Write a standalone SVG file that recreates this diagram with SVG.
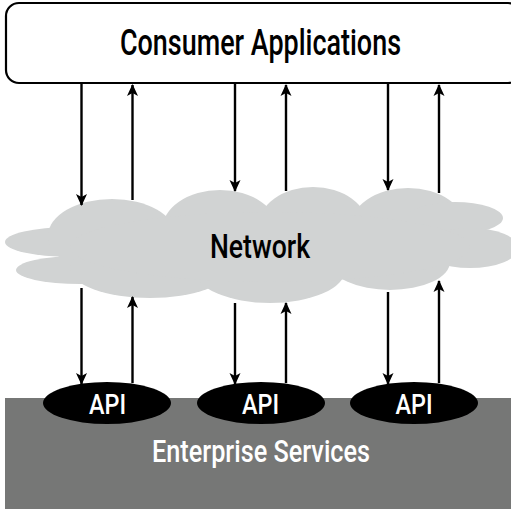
<svg xmlns="http://www.w3.org/2000/svg" width="511" height="509" viewBox="0 0 511 509">
<defs>
<style>
.lbl{font-family:Roboto,"Liberation Sans",Arial,sans-serif;font-weight:500;text-anchor:middle}
.conn line{stroke:#000;stroke-width:2.4;fill:none}
.cloud ellipse{fill:#d1d3d3}
.api{fill:#000}
</style>
<marker id="ah" viewBox="0 0 12 12" refX="11" refY="6" markerWidth="12" markerHeight="12" markerUnits="userSpaceOnUse" orient="auto">
<path d="M0,0.5 L12,6 L0,11.5 L3,6 Z" fill="#000"/>
</marker>
</defs>
<rect width="511" height="509" fill="#fff"/>
<g id="enterprise">
<rect x="5" y="398" width="506" height="111" fill="#767776"/>
<text class="lbl" x="261" y="462" font-size="31" fill="#fff" textLength="218" lengthAdjust="spacingAndGlyphs">Enterprise Services</text>
</g>
<g id="network" class="cloud">
<ellipse cx="70" cy="242" rx="65" ry="15"/>
<ellipse cx="80" cy="270" rx="64" ry="14"/>
<ellipse cx="112" cy="236" rx="64" ry="37"/>
<ellipse cx="150" cy="268" rx="80" ry="30"/>
<ellipse cx="220" cy="230" rx="58" ry="40"/>
<ellipse cx="313" cy="227" rx="55" ry="40"/>
<ellipse cx="408" cy="228" rx="58" ry="40"/>
<ellipse cx="455" cy="218" rx="48" ry="16"/>
<ellipse cx="470" cy="248" rx="48" ry="20"/>
<ellipse cx="390" cy="262" rx="60" ry="28"/>
<ellipse cx="270" cy="270" rx="75" ry="33"/>
<ellipse cx="270" cy="247" rx="200" ry="35"/>
<text class="lbl" x="260" y="258" font-size="33" fill="#000" textLength="100" lengthAdjust="spacingAndGlyphs">Network</text>
</g>
<g id="consumer">
<rect x="6" y="3" width="515" height="80" rx="13" ry="13" fill="#fff" stroke="#000" stroke-width="2.2"/>
<text class="lbl" x="260.5" y="55" font-size="36" fill="#000" textLength="281" lengthAdjust="spacingAndGlyphs">Consumer Applications</text>
</g>
<g id="api1">
<ellipse class="api" cx="107" cy="403" rx="64" ry="21"/>
<text class="lbl" x="107.5" y="414" font-size="27" fill="#fff" textLength="37" lengthAdjust="spacingAndGlyphs">API</text>
</g>
<g id="api2">
<ellipse class="api" cx="261" cy="403" rx="64" ry="21"/>
<text class="lbl" x="260.5" y="414" font-size="27" fill="#fff" textLength="37" lengthAdjust="spacingAndGlyphs">API</text>
</g>
<g id="api3">
<ellipse class="api" cx="414" cy="403" rx="64" ry="21"/>
<text class="lbl" x="414" y="414" font-size="27" fill="#fff" textLength="37" lengthAdjust="spacingAndGlyphs">API</text>
</g>
<g id="connectors" class="conn">
<line x1="81.5" y1="84" x2="81.5" y2="205" marker-end="url(#ah)"/>
<line x1="132.5" y1="200" x2="132.5" y2="85" marker-end="url(#ah)"/>
<line x1="235" y1="84" x2="235" y2="191" marker-end="url(#ah)"/>
<line x1="286" y1="191" x2="286" y2="85" marker-end="url(#ah)"/>
<line x1="388" y1="84" x2="388" y2="190" marker-end="url(#ah)"/>
<line x1="439" y1="193" x2="439" y2="85" marker-end="url(#ah)"/>
<line x1="81.5" y1="288" x2="81.5" y2="384" marker-end="url(#ah)"/>
<line x1="132.5" y1="383" x2="132.5" y2="297" marker-end="url(#ah)"/>
<line x1="235" y1="303" x2="235" y2="384" marker-end="url(#ah)"/>
<line x1="286" y1="383" x2="286" y2="303" marker-end="url(#ah)"/>
<line x1="388" y1="292" x2="388" y2="384" marker-end="url(#ah)"/>
<line x1="439" y1="383" x2="439" y2="281" marker-end="url(#ah)"/>
</g>
</svg>
